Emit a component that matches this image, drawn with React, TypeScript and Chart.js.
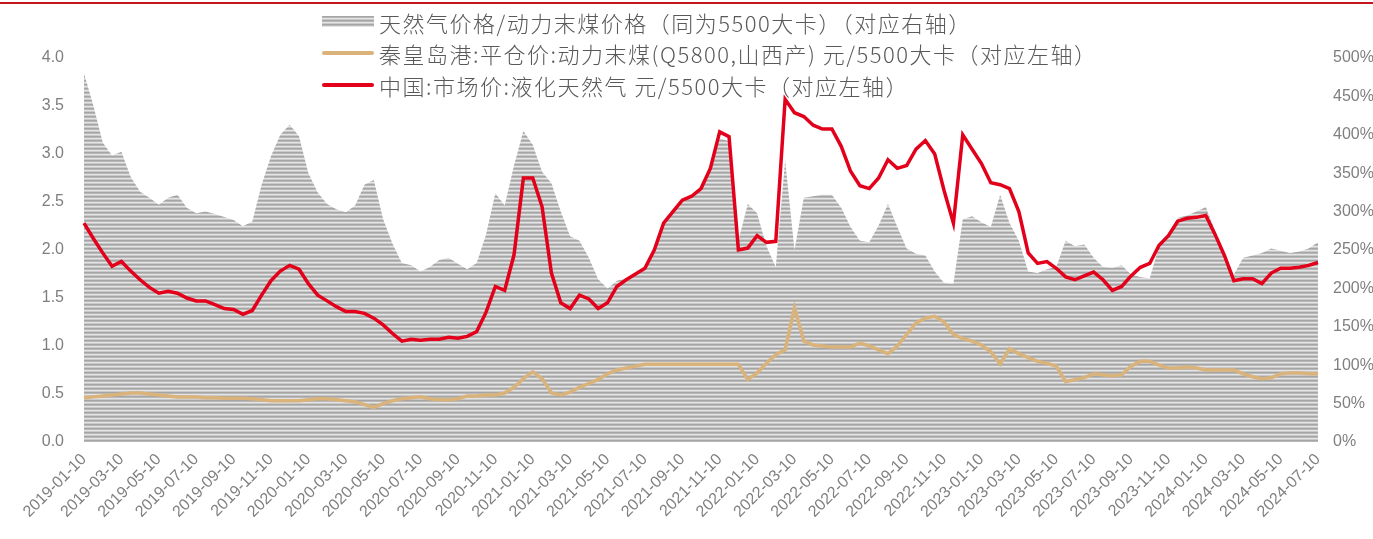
import React, { useEffect, useRef } from "react";
import { Chart, registerables } from "chart.js";

Chart.register(...registerables);

// Semi-monthly observations (10th and 25th), 2019-01-10 .. 2024-07-10
// 天然气价格/动力末煤价格 (%), right axis
const gasCoalRatio: number[] = [
  480, 438, 390, 373, 378, 345, 326, 318, 309, 318,
  322, 305, 298, 300, 297, 293, 289, 281, 287, 335,
  372, 400, 413, 398, 350, 325, 310, 303, 299, 308,
  335, 341, 290, 258, 233, 230, 222, 228, 237, 240,
  232, 225, 233, 270, 324, 308, 360, 405, 387, 352,
  337, 300, 268, 262, 240, 212, 200, 210, 213, 220,
  228, 250, 285, 300, 314, 320, 330, 360, 395, 392,
  262, 310, 298, 255, 228, 367, 250, 318, 320, 322,
  322, 305, 280, 262, 260, 282, 310, 280, 252, 245,
  243, 222, 207, 206, 290, 294, 286, 280, 322, 285,
  262, 222, 220, 225, 228, 262, 255, 257, 240, 228,
  227, 230, 218, 215, 213, 255, 272, 292, 295, 300,
  306, 275, 240, 218, 240, 243, 246, 252, 249, 246,
  248, 252, 260,
];

// 秦皇岛港:平仓价:动力末煤 元/5500大卡 (left axis)
const coalPrice: number[] = [
  0.46, 0.47, 0.48, 0.49, 0.50, 0.51, 0.51, 0.50, 0.49, 0.48,
  0.47, 0.47, 0.47, 0.46, 0.46, 0.455, 0.455, 0.455, 0.45, 0.44,
  0.43, 0.43, 0.43, 0.43, 0.44, 0.45, 0.45, 0.44, 0.43, 0.42,
  0.39, 0.36, 0.40, 0.43, 0.45, 0.46, 0.47, 0.45, 0.44, 0.44,
  0.45, 0.48, 0.48, 0.49, 0.49, 0.51, 0.57, 0.66, 0.73, 0.66,
  0.51, 0.49, 0.52, 0.57, 0.61, 0.65, 0.71, 0.75, 0.77, 0.79,
  0.81, 0.81, 0.81, 0.81, 0.81, 0.81, 0.81, 0.81, 0.81, 0.81,
  0.81, 0.65, 0.72, 0.82, 0.91, 0.96, 1.40, 1.05, 1.01, 1.00,
  0.99, 0.99, 0.99, 1.03, 1.00, 0.96, 0.92, 1.00, 1.12, 1.24,
  1.29, 1.31, 1.25, 1.12, 1.08, 1.05, 1.01, 0.94, 0.81, 0.97,
  0.92, 0.88, 0.84, 0.82, 0.79, 0.63, 0.65, 0.67, 0.71, 0.70,
  0.69, 0.70, 0.79, 0.84, 0.84, 0.80, 0.77, 0.77, 0.78, 0.77,
  0.75, 0.75, 0.75, 0.75, 0.71, 0.68, 0.66, 0.67, 0.71, 0.72,
  0.72, 0.71, 0.71,
];

// 中国:市场价:液化天然气 元/5500大卡 (left axis)
const lngPrice: number[] = [
  2.28, 2.12, 1.97, 1.83, 1.88, 1.78, 1.69, 1.61, 1.55, 1.57,
  1.55, 1.50, 1.47, 1.47, 1.43, 1.39, 1.38, 1.33, 1.37, 1.53,
  1.68, 1.78, 1.84, 1.80, 1.65, 1.53, 1.47, 1.41, 1.36, 1.36,
  1.34, 1.29, 1.22, 1.13, 1.05, 1.07, 1.06, 1.07, 1.07, 1.09,
  1.08, 1.10, 1.15, 1.35, 1.62, 1.58, 1.95, 2.75, 2.75, 2.45,
  1.76, 1.45, 1.39, 1.53, 1.49, 1.39, 1.45, 1.62, 1.69, 1.75,
  1.81, 2.00, 2.28, 2.40, 2.52, 2.56, 2.64, 2.85, 3.23, 3.18,
  2.00, 2.02, 2.15, 2.08, 2.09, 3.57, 3.43, 3.39, 3.30, 3.26,
  3.26, 3.08, 2.82, 2.67, 2.64, 2.75, 2.94, 2.85, 2.88, 3.05,
  3.14, 3.00, 2.62, 2.28, 3.20, 3.05, 2.90, 2.70, 2.68, 2.64,
  2.40, 1.97, 1.86, 1.88, 1.81, 1.72, 1.69, 1.73, 1.77, 1.69,
  1.58, 1.62, 1.73, 1.82, 1.86, 2.05, 2.15, 2.30, 2.33, 2.34,
  2.36, 2.16, 1.94, 1.68, 1.70, 1.70, 1.65, 1.76, 1.81, 1.81,
  1.82, 1.84, 1.87,
];

// Category dates (10th and 25th of each month)
const categories: string[] = [];
for (let i = 0; i < lngPrice.length; i++) {
  const m = Math.floor(i / 2);
  const y = 2019 + Math.floor(m / 12);
  const mm = String((m % 12) + 1).padStart(2, "0");
  categories.push(`${y}-${mm}-${i % 2 === 0 ? "10" : "25"}`);
}

const legendLabels: string[] = [
  "天然气价格/动力末煤价格（同为5500大卡）（对应右轴）",
  "秦皇岛港:平仓价:动力末煤(Q5800,山西产) 元/5500大卡（对应左轴）",
  "中国:市场价:液化天然气 元/5500大卡（对应左轴）",
];

const STRIPES = ["#a5a5a5", "#b8b8b8", "#e4e4e4", "#cacaca"];
const RED = "#e2001a";
const TAN = "#dab37b";

function makePattern(): CanvasPattern | string {
  const c = document.createElement("canvas");
  c.width = 8;
  c.height = STRIPES.length;
  const g = c.getContext("2d");
  if (!g) return "#bbbbbb";
  STRIPES.forEach((col, r) => {
    g.fillStyle = col;
    g.fillRect(0, r, 8, 1);
  });
  return g.createPattern(c, "repeat") || "#bbbbbb";
}

export default function App() {
  const ref = useRef<HTMLCanvasElement | null>(null);

  useEffect(() => {
    document.body.style.margin = "0";
    const canvas = ref.current;
    if (!canvas) return;
    const tickFont = { family: "'Liberation Sans', Arial, sans-serif", size: 16 };
    const chart = new Chart(canvas, {
      type: "line",
      data: {
        labels: categories,
        datasets: [
          {
            label: legendLabels[2],
            data: lngPrice,
            yAxisID: "y",
            borderColor: RED,
            borderWidth: 3.5,
            pointRadius: 0,
            tension: 0,
            fill: false,
            order: 0,
          },
          {
            label: legendLabels[1],
            data: coalPrice,
            yAxisID: "y",
            borderColor: TAN,
            borderWidth: 3.5,
            pointRadius: 0,
            tension: 0,
            fill: false,
            order: 1,
          },
          {
            label: legendLabels[0],
            data: gasCoalRatio,
            yAxisID: "y1",
            borderWidth: 0,
            borderColor: "rgba(0,0,0,0)",
            backgroundColor: makePattern() as any,
            pointRadius: 0,
            tension: 0,
            fill: "origin",
            order: 2,
          },
        ],
      },
      options: {
        responsive: false,
        animation: false,
        devicePixelRatio: 1,
        layout: { padding: { top: 58, left: 0, right: 0, bottom: 0 } },
        plugins: { legend: { display: false }, tooltip: { enabled: false } },
        scales: {
          x: {
            type: "category",
            offset: false,
            grid: { display: false, drawTicks: false, tickLength: 0 },
            border: { display: false },
            ticks: {
              autoSkip: false,
              minRotation: 45,
              maxRotation: 45,
              padding: 8,
              color: "#7f7f7f",
              font: tickFont,
              callback: (_v: any, i: number) => (i % 4 === 0 ? categories[i] : ""),
            },
            afterFit: (s: any) => {
              s.height = 97;
            },
          },
          y: {
            position: "left",
            min: 0,
            max: 4,
            grid: { display: false, drawTicks: false, tickLength: 0 },
            border: { display: false },
            ticks: {
              stepSize: 0.5,
              padding: 20,
              color: "#7f7f7f",
              font: tickFont,
              callback: (v: any) => Number(v).toFixed(1),
            },
            afterFit: (s: any) => {
              s.width = 84;
            },
          },
          y1: {
            position: "right",
            min: 0,
            max: 500,
            grid: { display: false, drawTicks: false, tickLength: 0 },
            border: { display: false },
            ticks: {
              stepSize: 50,
              padding: 15,
              color: "#7f7f7f",
              font: tickFont,
              callback: (v: any) => `${v}%`,
            },
            afterFit: (s: any) => {
              s.width = 55;
            },
          },
        },
      },
    });
    return () => chart.destroy();
  }, []);

  const legendText: React.CSSProperties = {
    fontFamily: "'Noto Sans CJK SC', sans-serif",
    fontSize: 22,
    fontWeight: 300,
    letterSpacing: 1.5,
    color: "#595959",
    whiteSpace: "nowrap",
    marginLeft: 5,
  };
  const row: React.CSSProperties = {
    display: "flex",
    alignItems: "center",
    height: 31.5,
  };
  const lineIcon = (color: string): React.CSSProperties => ({
    width: 52,
    height: 4,
    borderRadius: 2,
    background: color,
  });

  return (
    <div style={{ position: "absolute", left: 0, top: 0, width: 1373, height: 539, background: "#fff" }}>
      <div style={{ position: "absolute", left: 0, top: 2, width: 1373, height: 2, background: "#c3161c" }} />
      <canvas ref={ref} width={1373} height={539} style={{ position: "absolute", left: 0, top: 0 }} />
      <div style={{ position: "absolute", left: 322, top: 6 }}>
        <div style={row}>
          <div
            style={{
              width: 52,
              height: 11,
              background:
                "repeating-linear-gradient(to bottom, #a5a5a5 0px, #a5a5a5 1px, #b8b8b8 1px, #b8b8b8 2px, #e4e4e4 2px, #e4e4e4 3px, #cacaca 3px, #cacaca 4px)",
            }}
          />
          <span style={legendText}>{legendLabels[0]}</span>
        </div>
        <div style={row}>
          <div style={lineIcon(TAN)} />
          <span style={legendText}>{legendLabels[1]}</span>
        </div>
        <div style={row}>
          <div style={lineIcon(RED)} />
          <span style={legendText}>{legendLabels[2]}</span>
        </div>
      </div>
    </div>
  );
}
